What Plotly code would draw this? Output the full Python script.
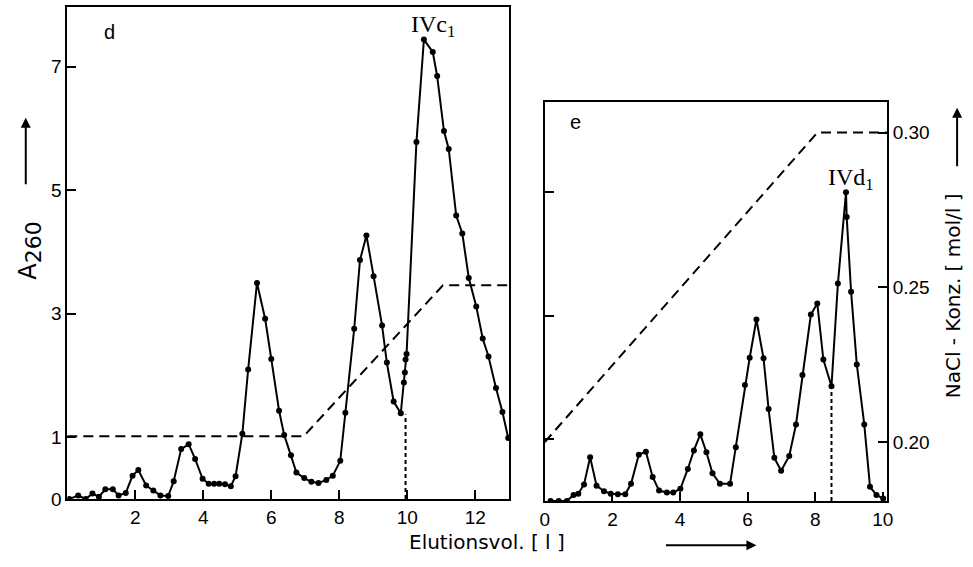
import plotly.graph_objects as go

W, H = 973, 567

# ---------- data: panel d ----------
d_x = [0.06, 0.32, 0.54, 0.74, 0.93, 1.12, 1.34, 1.51, 1.72, 1.92, 2.09, 2.32, 2.53, 2.74,
       2.97, 3.13, 3.35, 3.57, 3.76, 3.98, 4.16, 4.32, 4.47, 4.64, 4.81, 4.95, 5.15, 5.32,
       5.58, 5.82, 6.00, 6.23, 6.38, 6.58, 6.74, 6.97, 7.18, 7.39, 7.62, 7.81, 8.03, 8.18,
       8.44, 8.61, 8.80, 9.01, 9.26, 9.40, 9.60, 9.81, 9.90, 9.93, 9.95, 9.98, 10.27, 10.49,
       10.75, 10.88, 11.08, 11.22, 11.44, 11.62, 11.81, 12.03, 12.22, 12.39, 12.61, 12.80, 12.97]
d_a260 = [0.00, 0.06, 0.00, 0.09, 0.04, 0.16, 0.16, 0.06, 0.10, 0.38, 0.47, 0.22, 0.14, 0.06,
          0.05, 0.29, 0.81, 0.89, 0.65, 0.33, 0.25, 0.25, 0.25, 0.24, 0.21, 0.37, 1.06, 2.10,
          3.50, 2.92, 2.27, 1.43, 1.04, 0.71, 0.43, 0.34, 0.28, 0.26, 0.31, 0.38, 0.62, 1.40,
          2.76, 3.87, 4.27, 3.61, 2.81, 2.21, 1.58, 1.39, 1.89, 2.05, 2.26, 2.35, 5.78, 7.44,
          7.24, 6.85, 5.96, 5.67, 4.59, 4.30, 3.58, 3.12, 2.60, 2.31, 1.80, 1.41, 0.99]
d_nacl_x = [0, 6.95, 11.05, 13]
d_nacl = [0.20, 0.20, 0.25, 0.25]
d_cut_x = [9.95, 9.95]
d_cut_y = [0, 1.37]

# ---------- data: panel e ----------
e_x = [0.17, 0.41, 0.65, 0.85, 0.99, 1.16, 1.34, 1.53, 1.75, 1.95, 2.16, 2.38, 2.55, 2.78,
       2.99, 3.19, 3.38, 3.61, 3.80, 4.01, 4.23, 4.41, 4.60, 4.78, 4.96, 5.18, 5.48, 5.65,
       5.92, 6.06, 6.26, 6.47, 6.62, 6.79, 6.99, 7.23, 7.43, 7.62, 7.87, 8.06, 8.24, 8.48,
       8.67, 8.91, 8.93, 9.06, 9.23, 9.45, 9.62, 9.81, 10.01]
e_a260 = [0.00, 0.00, 0.00, 0.10, 0.12, 0.27, 0.71, 0.25, 0.16, 0.12, 0.11, 0.11, 0.28, 0.75,
          0.80, 0.39, 0.17, 0.14, 0.14, 0.20, 0.52, 0.82, 1.08, 0.79, 0.45, 0.28, 0.28, 0.87,
          1.88, 2.32, 2.94, 2.31, 1.49, 0.70, 0.49, 0.73, 1.24, 2.04, 3.02, 3.20, 2.29, 1.86,
          3.52, 5.00, 4.60, 3.39, 2.21, 1.24, 0.23, 0.10, 0.04]
e_nacl_x = [0, 8.06, 10.12]
e_nacl = [0.20, 0.30, 0.30]
e_cut_x = [8.48, 8.48]
e_cut_y = [0, 1.86]

d_xticks = [2, 4, 6, 8, 10, 12]
d_yticks = [0, 1, 3, 5, 7]
e_xticks = [0, 2, 4, 6, 8, 10]
e_yticks = [1, 3, 5]
nacl_ticks = [0.20, 0.25, 0.30]
nacl_ticktext = ["0.20", "0.25", "0.30"]


def px(x):
    return x / W


def py(y):
    return 1 - y / H


FONT = "Liberation Sans"
TFONT = "DejaVu Sans"
black = "black"

fig = go.Figure()
line_style = dict(color=black, width=2)
marker_style = dict(color=black, size=6)

fig.add_trace(go.Scatter(x=d_x, y=d_a260, mode="lines+markers", line=line_style,
                         marker=marker_style, xaxis="x", yaxis="y", showlegend=False))
fig.add_trace(go.Scatter(x=d_nacl_x, y=d_nacl, mode="lines",
                         line=dict(color=black, width=2, dash="10px,6px"),
                         xaxis="x", yaxis="y2", showlegend=False))
fig.add_trace(go.Scatter(x=d_cut_x, y=d_cut_y, mode="lines",
                         line=dict(color=black, width=2, dash="4px,3px"),
                         xaxis="x", yaxis="y", showlegend=False))

fig.add_trace(go.Scatter(x=e_x, y=e_a260, mode="lines+markers", line=line_style,
                         marker=marker_style, xaxis="x2", yaxis="y3", showlegend=False))
fig.add_trace(go.Scatter(x=e_nacl_x, y=e_nacl, mode="lines",
                         line=dict(color=black, width=2, dash="10px,6px"),
                         xaxis="x2", yaxis="y4", showlegend=False))
fig.add_trace(go.Scatter(x=e_cut_x, y=e_cut_y, mode="lines",
                         line=dict(color=black, width=2, dash="4px,3px"),
                         xaxis="x2", yaxis="y3", showlegend=False))

ax_common = dict(showline=True, linecolor=black, linewidth=2, showgrid=False,
                 zeroline=False, ticks="inside", ticklen=9, tickwidth=2,
                 tickcolor=black, tickfont=dict(family=FONT, size=19, color=black))

fig.update_layout(
    width=W, height=H,
    margin=dict(l=0, r=0, t=0, b=0),
    paper_bgcolor="white", plot_bgcolor="white",
    xaxis=dict(domain=[px(63), px(510)], range=[0, 13], tickvals=d_xticks,
               anchor="y", mirror=True, **ax_common),
    yaxis=dict(domain=[py(509), py(7)], range=[0, 7.97], tickvals=d_yticks,
               anchor="x", mirror=True, **ax_common),
    yaxis2=dict(overlaying="y", range=[0.1792, 0.3422], visible=False, anchor="x"),
    xaxis2=dict(domain=[px(546), px(892)], range=[0, 10.12], tickvals=e_xticks,
                anchor="y3", mirror=True, **ax_common),
    yaxis3=dict(domain=[py(511), py(104)], range=[0, 6.46], tickvals=e_yticks,
                showticklabels=False, anchor="x2", mirror=True, **ax_common),
    yaxis4=dict(overlaying="y3", side="right", anchor="x2", range=[0.1809, 0.3099],
                tickvals=nacl_ticks, ticktext=nacl_ticktext, **ax_common),
)

ann = []
c = dict(xanchor="center", yanchor="middle", showarrow=False)
lab_font = dict(family=FONT, size=20, color=black)
ann.append(dict(x=1.25, y=7.57, xref="x", yref="y", text="d", font=lab_font, **c))
ann.append(dict(x=0.9, y=6.13, xref="x2", yref="y3", text="e", font=lab_font, **c))
ser_font = dict(family="Liberation Serif", size=24, color=black)
ann.append(dict(x=10.75, y=7.66, xref="x", yref="y", text="IVc<sub>1</sub>",
                font=ser_font, **c))
ann.append(dict(x=9.05, y=5.22, xref="x2", yref="y3", text="IVd<sub>1</sub>",
                font=ser_font, **c))
# axis titles
ann.append(dict(x=px(25), y=py(256), xref="paper", yref="paper",
                text="A<sub><span style='font-size:22px'>260</span></sub>",
                textangle=-90, font=dict(family=TFONT, size=24, color=black), **c))
ann.append(dict(x=px(959), y=py(302), xref="paper", yref="paper",
                text="NaCl - Konz. [ mol/l ]", textangle=-90,
                font=dict(family=TFONT, size=20, color=black), **c))
ann.append(dict(x=px(488), y=py(553), xref="paper", yref="paper",
                text="Elutionsvol. [ l ]", font=dict(family=TFONT, size=20, color=black), **c))
# arrows
arrow = dict(showarrow=True, arrowhead=2, arrowsize=1, arrowwidth=2, arrowcolor=black,
             text="", xref="paper", yref="paper")
ann.append(dict(x=px(21), y=py(120), ax=0, ay=68, **arrow))
ann.append(dict(x=px(963), y=py(110), ax=0, ay=60, **arrow))
ann.append(dict(x=px(760), y=py(556), ax=-92, ay=0, **arrow))

fig.update_layout(annotations=ann)

fig.write_html(
    "out.html",
    config={"displayModeBar": False},
    post_script="document.body.style.margin='0';document.body.style.overflow='hidden';",
)
